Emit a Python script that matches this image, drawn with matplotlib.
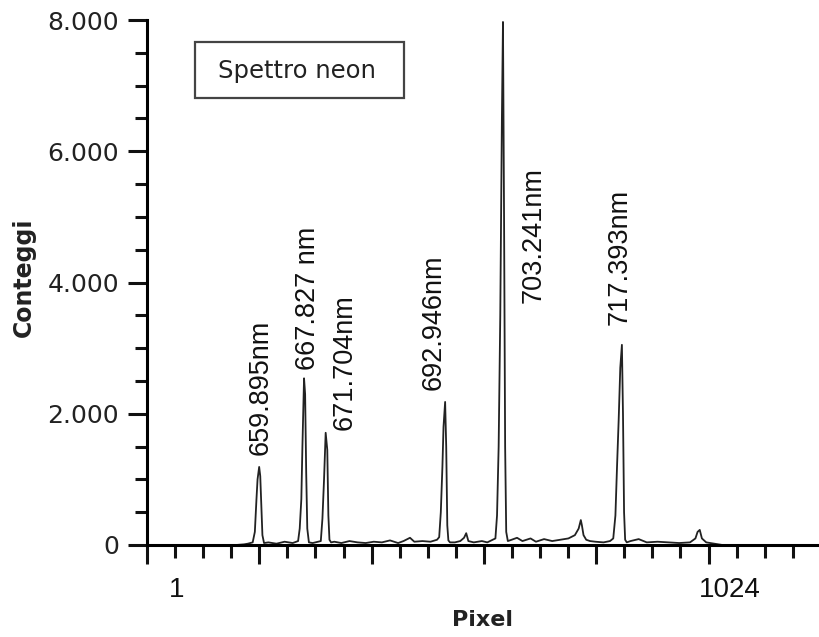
import numpy as np
import matplotlib.pyplot as plt
from matplotlib.ticker import MultipleLocator, FixedLocator, NullFormatter
from matplotlib.patches import Rectangle

# spectrum (pixel, counts)
pixel = [1, 60, 110, 125, 132, 141, 145, 148, 150, 153, 155, 157, 159, 162,
         170, 185, 200, 215, 225, 228, 231, 233, 236, 238, 240, 242, 245,
         252, 262, 267, 270, 273, 276, 279, 281, 283, 286,
         292, 305, 320, 335, 350, 365, 380, 395, 410, 420, 432, 440, 455, 470, 482,
         486, 489, 492, 494, 497, 499, 501, 503, 506,
         515, 525, 532, 536, 540, 550, 565, 575, 585,
         590, 593, 596, 599, 602, 604, 606, 608, 610, 613,
         620, 630, 640, 655, 665, 680, 695, 710, 725, 737, 744, 748, 750, 753, 758,
         765, 775, 790, 802,
         808, 812, 815, 818, 821, 824, 826, 828, 830, 833,
         840, 855, 870, 890, 910, 930, 950, 960, 964, 968, 972, 980, 995, 1010, 1024]
counts = [0, 0, 0, 10, 20, 40, 200, 700, 1000, 1190, 1050, 600, 150, 30,
          40, 20, 50, 30, 60, 250, 700, 1500, 2540, 2300, 1100, 250, 40,
          30, 50, 60, 400, 1000, 1710, 1450, 450, 80, 40,
          50, 30, 60, 40, 30, 50, 40, 70, 30, 60, 110, 50, 60, 50, 80,
          120, 500, 1200, 1800, 2180, 1500, 300, 70, 40,
          40, 60, 110, 180, 60, 40, 60, 40, 80,
          100, 450, 1500, 3500, 6500, 7970, 5000, 1500, 200, 60,
          80, 110, 60, 100, 50, 90, 60, 80, 100, 150, 250, 380, 300, 150, 80,
          60, 50, 40, 60,
          100, 450, 1200, 1900, 2700, 3050, 2000, 500, 80, 40,
          60, 90, 40, 50, 40, 30, 40, 100, 200, 230, 100, 40, 20, 0, 0]

line_labels = ["659.895nm", "667.827 nm", "671.704nm", "692.946nm", "703.241nm", "717.393nm"]
label_x = [156, 243, 312, 476, 660, 820]
label_y = [1370, 2670, 1750, 2360, 3690, 3350]

W, H = 819, 637
fig = plt.figure(figsize=(W / 100, H / 100), dpi=100)
ax = fig.add_axes([147 / W, (H - 545) / H, (W - 147) / W, 525 / H])

ax.plot(pixel, counts, color='#222222', lw=1.3, zorder=3)

x0, x1 = -54.5, 1188.6
ax.set_xlim(x0, x1)
ax.set_ylim(0, 8000)

for s in ['top', 'right']:
    ax.spines[s].set_visible(False)
for s in ['left', 'bottom']:
    ax.spines[s].set_linewidth(2.2)
    ax.spines[s].set_zorder(4)

ax.yaxis.set_major_locator(MultipleLocator(2000))
ax.yaxis.set_minor_locator(MultipleLocator(500))
ax.set_yticklabels([])
ax.set_yticks([0, 2000, 4000, 6000, 8000])
ax.set_yticklabels(['0', '2.000', '4.000', '6.000', '8.000'], fontsize=18,
                   family='DejaVu Sans', color='#222222')

step = 51.94
ax.xaxis.set_minor_locator(FixedLocator(np.arange(x0, x1, step)))
ax.xaxis.set_major_locator(FixedLocator(np.arange(x0, x1, step * 4)))
ax.xaxis.set_major_formatter(NullFormatter())

ax.tick_params(axis='both', which='major', length=14, width=2.2, pad=6, color='#111111')
ax.tick_params(axis='both', which='minor', length=9, width=2.2, color='#111111')

ax.text(1, -0.086, "1", transform=ax.get_xaxis_transform(), ha='center', va='center',
        fontsize=20, family='Liberation Sans', color='#111111')
ax.text(1024, -0.086, "1024", transform=ax.get_xaxis_transform(), ha='center', va='center',
        fontsize=20, family='Liberation Sans', color='#111111')

for lab, lx, ly in zip(line_labels, label_x, label_y):
    ax.text(lx, ly, lab, rotation=90, ha='center', va='bottom', fontsize=19.5,
            family='Liberation Sans', color='#111111')

fig.text(24 / W, 1 - 277 / H, "Conteggi", rotation=90, ha='center', va='center',
         fontsize=17, fontweight='bold', family='DejaVu Sans', color='#222222')
fig.text(483 / W, 1 - 620 / H, "Pixel", ha='center', va='center',
         fontsize=16, fontweight='bold', family='DejaVu Sans', color='#222222')

fig.patches.append(Rectangle((195 / W, 1 - 98 / H), 209 / W, 56 / H, transform=fig.transFigure,
                             fill=False, edgecolor='#444444', lw=1.6))
fig.text(297 / W, 1 - 71 / H, "Spettro neon", ha='center', va='center',
         fontsize=17.5, family='DejaVu Sans', color='#222222')

fig.savefig("out.png", dpi=100)
